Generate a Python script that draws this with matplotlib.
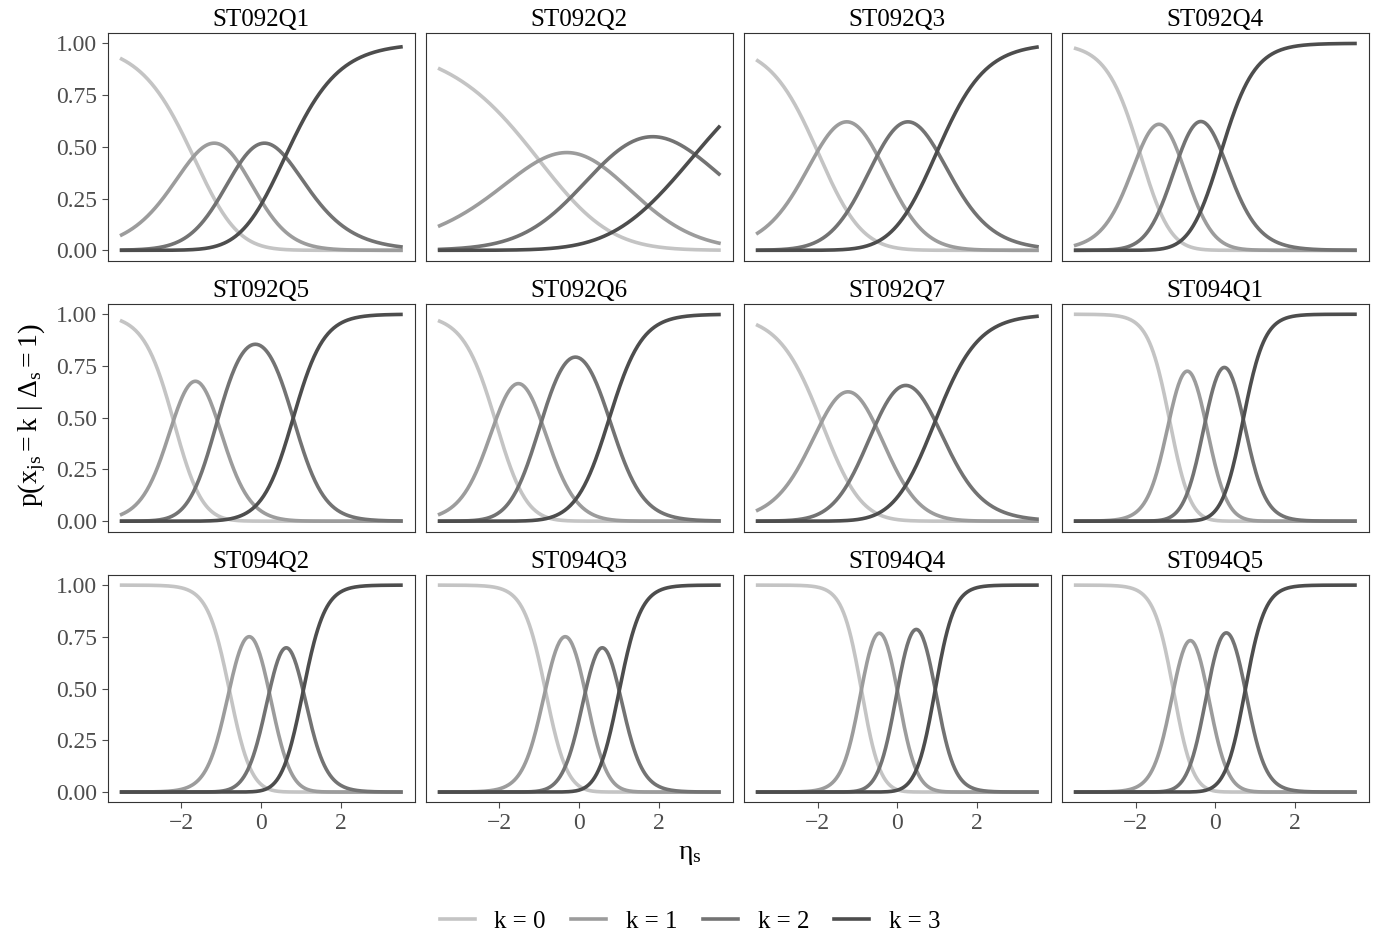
import numpy as np
import matplotlib.pyplot as plt

plt.rcParams['font.family'] = ['Liberation Serif', 'DejaVu Serif']
plt.rcParams['mathtext.fontset'] = 'custom'
plt.rcParams['mathtext.rm'] = 'Liberation Serif'
plt.rcParams['mathtext.it'] = 'Liberation Serif'

# partial credit model: slope and category crossing points
items = ["ST092Q1", "ST092Q2", "ST092Q3", "ST092Q4",
         "ST092Q5", "ST092Q6", "ST092Q7", "ST094Q1",
         "ST094Q2", "ST094Q3", "ST094Q4", "ST094Q5"]
slopes = [1.4, 0.8, 1.6, 2.3, 2.6, 2.4, 1.8, 3.7, 3.6, 3.6, 4.2, 4.0]
crossings = [[-1.7, -0.55, 0.6], [-1.0, 0.55, 2.9], [-2.0, -0.5, 1.0],
             [-1.9, -0.9, 0.15], [-2.2, -1.1, 0.8], [-2.1, -0.95, 0.75],
             [-1.9, -0.55, 0.95], [-1.15, -0.25, 0.7], [-0.8, 0.2, 1.05],
             [-0.85, 0.15, 1.0], [-0.9, 0.0, 0.95], [-1.05, -0.2, 0.75]]
labels = ["k = 0", "k = 1", "k = 2", "k = 3"]
colors = ["#c4c4c4", "#9c9c9c", "#737373", "#4d4d4d"]

eta = np.linspace(-3.5, 3.5, 300)

fig, axes = plt.subplots(3, 4, figsize=(13.8, 9.44), dpi=100, sharex=True, sharey=True)
fig.subplots_adjust(left=0.078, right=0.992, top=0.965, bottom=0.15, wspace=0.035, hspace=0.19)

for i, (ax, name, a, ds) in enumerate(zip(axes.flat, items, slopes, crossings)):
    z = [np.zeros_like(eta)]
    for d in ds:
        z.append(z[-1] + a * (eta - d))
    z = np.array(z)
    p = np.exp(z - z.max(axis=0))
    p /= p.sum(axis=0)
    for k in range(4):
        ax.plot(eta, p[k], color=colors[k], lw=2.6, label=labels[k])
    ax.set_title(name, fontsize=18, pad=5)
    ax.set_xlim(-3.85, 3.85)
    ax.set_ylim(-0.05, 1.05)
    ax.set_xticks([-2, 0, 2])
    ax.set_xticklabels(["\u22122", "0", "2"])
    ax.set_yticks([0, 0.25, 0.5, 0.75, 1.0])
    ax.set_yticklabels(["0.00", "0.25", "0.50", "0.75", "1.00"])
    ax.tick_params(labelsize=17, colors="#4d4d4d", length=4,
                   left=(i % 4 == 0), bottom=(i >= 8))
    for s in ax.spines.values():
        s.set_color("#333333")

fig.text(0.5, 0.09, r"$\eta_{\mathrm{s}}$", ha="center", fontsize=20)
fig.text(0.012, 0.56, r"$\mathrm{p}\left(\mathrm{x}_{\mathrm{js}} = \mathrm{k}\ |\ \Delta_{\mathrm{s}} = 1\right)$",
         rotation=90, va="center", fontsize=20)
h, l = axes[0, 0].get_legend_handles_labels()
fig.legend(h, l, loc="lower center", ncol=4, frameon=False, fontsize=18,
           bbox_to_anchor=(0.5, -0.012), handlelength=1.4, columnspacing=1.0)
fig.savefig("out.png")
